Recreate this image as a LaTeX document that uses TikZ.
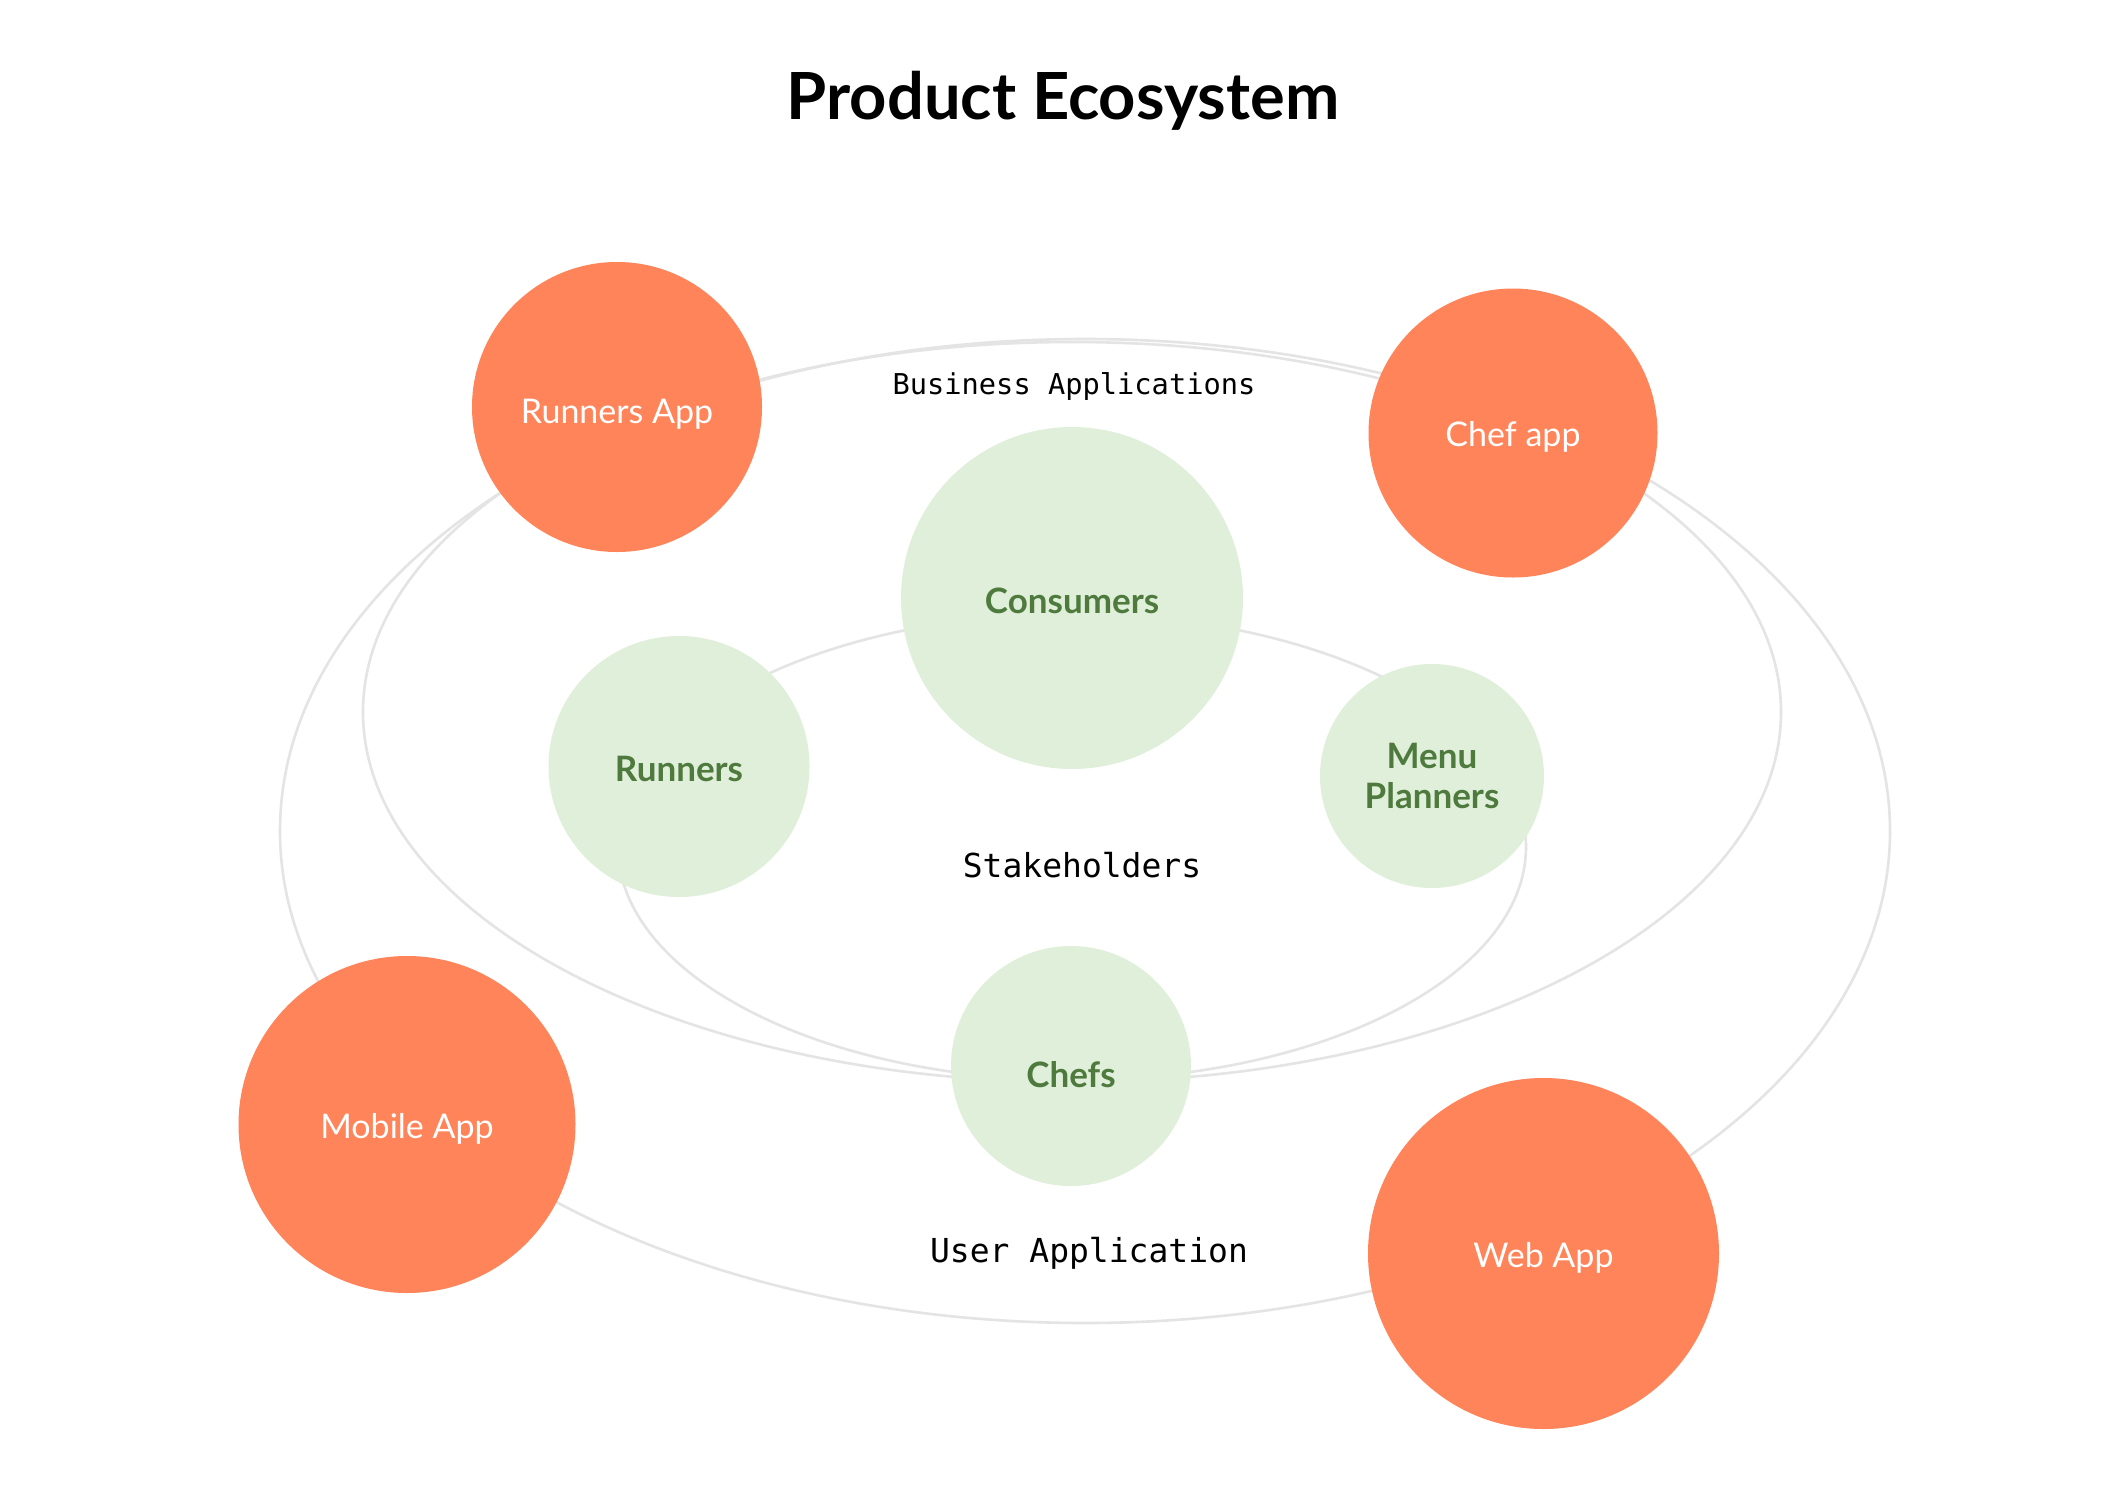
\documentclass[tikz,border=0pt]{standalone}
\usepackage{fontspec}
\setmainfont{Lato}
\newfontfamily\monof{DejaVu Sans Mono}
\definecolor{appor}{HTML}{FF8459}
\definecolor{stkfill}{HTML}{E0EFDA}
\definecolor{stktext}{HTML}{4E7A3E}
\definecolor{ringgray}{HTML}{E4E4E4}
\begin{document}
\begin{tikzpicture}[x=1pt,y=-1pt,
  appc/.style={circle,fill=appor,draw=none,inner sep=0pt,text=white,align=center,font=\fontsize{34}{40}\selectfont,text height=#1,text depth=0pt},
  stkc/.style={circle,fill=stkfill,draw=none,inner sep=0pt,text=stktext,align=center,font=\fontsize{35}{40}\selectfont\bfseries,text height=#1,text depth=0pt},
  stkm/.style={circle,fill=stkfill,draw=none,inner sep=0pt,text=stktext,align=center,font=\fontsize{35}{40}\selectfont\bfseries},
  ring/.style={draw=ringgray,line width=2.6pt},
  ringlabel/.style={inner sep=0pt,text=black}]
\path[use as bounding box,fill=white] (0,0) rectangle (2126,1494);
% rings
\draw[ring] (1085,831) ellipse [x radius=805pt, y radius=492pt];
\draw[ring] (1072,712) ellipse [x radius=709pt, y radius=370pt];
\draw[ring] (1072,847) ellipse [x radius=454pt, y radius=233pt];
% title
\node[anchor=base,inner sep=0pt,font=\fontsize{65}{70}\selectfont\bfseries] (title) at (1063,119) {Product Ecosystem};
% ring labels
\node[ringlabel,font=\monof\fontsize{28.7}{32}\selectfont] (lblbiz) at (1074,386) {Business Applications};
\node[ringlabel,font=\monof\fontsize{33}{38}\selectfont] (lblstk) at (1082,865) {Stakeholders};
\node[ringlabel,font=\monof\fontsize{33}{38}\selectfont] (lbluser) at (1089,1253) {User Application};
% stakeholders
\node[stkc=30.1pt,minimum size=342pt] (consumers) at (1072,598) {Consumers};
\node[stkc=30.1pt,minimum size=261pt] (runners) at (679,766.5) {Runners};
\node[stkm,minimum size=224pt] (menu) at (1432,776) {Menu\\Planners};
\node[stkc=43.1pt,minimum size=240pt] (chefs) at (1071,1066) {Chefs};
% apps
\node[appc=32.3pt,minimum size=290pt] (runnersapp) at (617,407) {Runners App};
\node[appc=27.3pt,minimum size=289pt] (chefapp) at (1513,433) {Chef app};
\node[appc=28.3pt,minimum size=337pt] (mobileapp) at (407,1124.5) {Mobile App};
\node[appc=27.3pt,minimum size=351pt] (webapp) at (1543.5,1253.5) {Web App};
\end{tikzpicture}
\end{document}
